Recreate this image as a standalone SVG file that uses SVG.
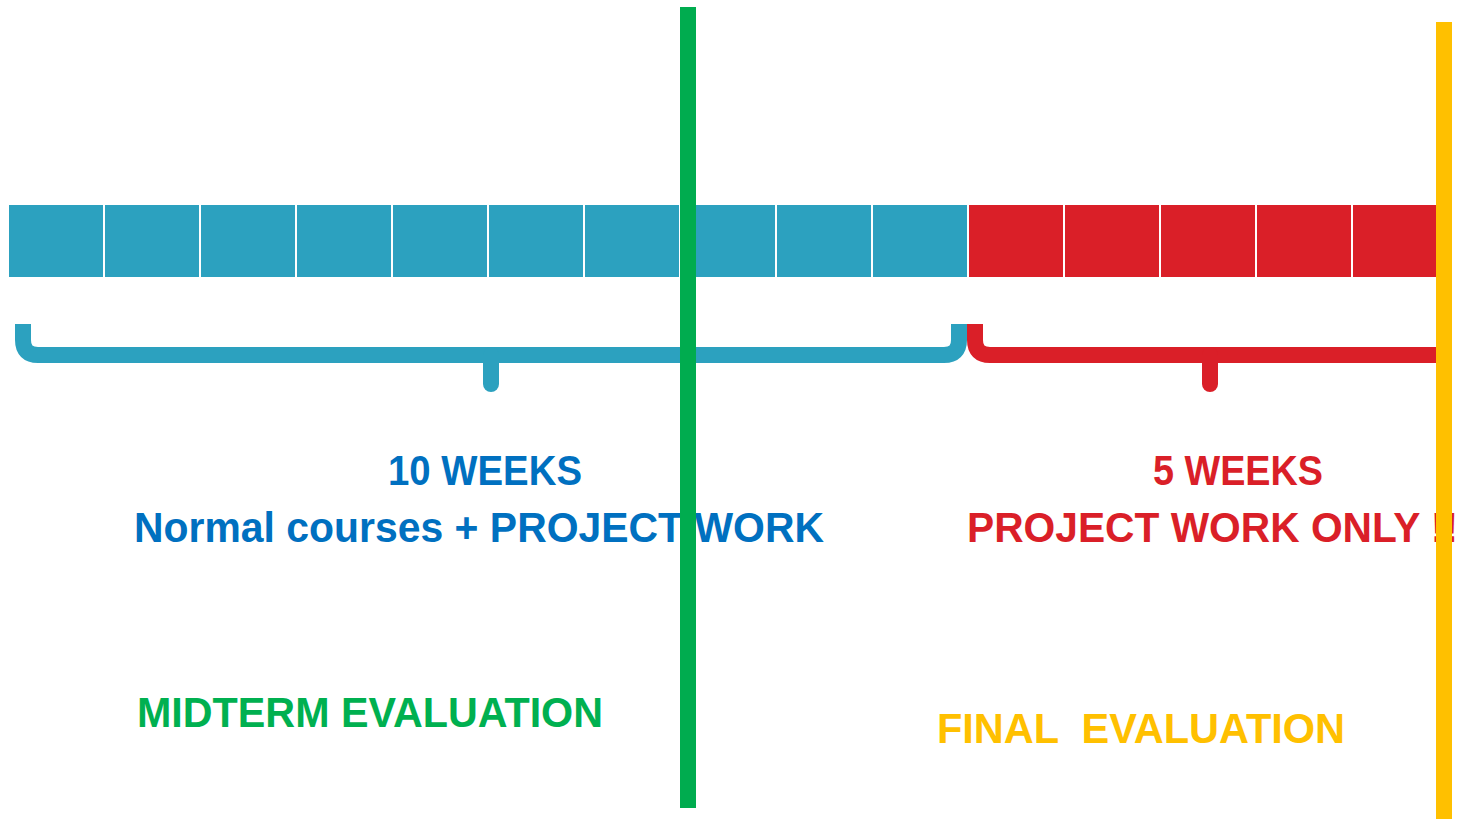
<svg xmlns="http://www.w3.org/2000/svg" width="1464" height="819" viewBox="0 0 1464 819">
<style>
.cb{fill:#2CA1BF}
.cr{fill:#DA1F28}
.br{fill:none;stroke-width:16;stroke-linecap:butt;stroke-linejoin:round}
.tip{fill:none;stroke-width:16;stroke-linecap:round}
text{font-family:"Liberation Sans",Arial,sans-serif;font-weight:bold;font-size:42px}
</style>
<rect width="1464" height="819" fill="#ffffff"/>
<g id="timeline">
<rect class="cb" x="9" y="205" width="94" height="72"/>
<rect class="cb" x="105" y="205" width="94" height="72"/>
<rect class="cb" x="201" y="205" width="94" height="72"/>
<rect class="cb" x="297" y="205" width="94" height="72"/>
<rect class="cb" x="393" y="205" width="94" height="72"/>
<rect class="cb" x="489" y="205" width="94" height="72"/>
<rect class="cb" x="585" y="205" width="94" height="72"/>
<rect class="cb" x="681" y="205" width="94" height="72"/>
<rect class="cb" x="777" y="205" width="94" height="72"/>
<rect class="cb" x="873" y="205" width="94" height="72"/>
<rect class="cr" x="969" y="205" width="94" height="72"/>
<rect class="cr" x="1065" y="205" width="94" height="72"/>
<rect class="cr" x="1161" y="205" width="94" height="72"/>
<rect class="cr" x="1257" y="205" width="94" height="72"/>
<rect class="cr" x="1353" y="205" width="90" height="72"/>
</g>
<g id="brace-blue">
<path class="br" stroke="#2CA1BF" d="M23,324 L23,340 Q23,355 38,355 L944,355 Q959,355 959,340 L959,324"/>
<path class="tip" stroke="#2CA1BF" d="M491,355 L491,384"/>
</g>
<g id="brace-red">
<path class="br" stroke="#DA1F28" d="M975,324 L975,340 Q975,355 990,355 L1444,355"/>
<path class="tip" stroke="#DA1F28" d="M1210,355 L1210,384"/>
</g>
<g id="labels-left">
<text x="388" y="485" fill="#0070C0" textLength="194" lengthAdjust="spacingAndGlyphs">10 WEEKS</text>
<text x="134" y="542" fill="#0070C0" textLength="690" lengthAdjust="spacingAndGlyphs">Normal courses + PROJECT WORK</text>
</g>
<g id="labels-right">
<text x="1153" y="485" fill="#DA1F28" textLength="170" lengthAdjust="spacingAndGlyphs">5 WEEKS</text>
<text x="967" y="542" fill="#DA1F28" textLength="491" lengthAdjust="spacingAndGlyphs">PROJECT WORK ONLY !!</text>
</g>
<g id="midterm">
<rect x="680" y="7" width="16" height="801" fill="#00AC4F"/>
<text x="137" y="727" fill="#00B050" font-size="44" textLength="466" lengthAdjust="spacingAndGlyphs">MIDTERM EVALUATION</text>
</g>
<g id="final">
<rect x="1436" y="22" width="16" height="797" fill="#FFC000"/>
<text x="937" y="743" fill="#FFC000" textLength="408" lengthAdjust="spacingAndGlyphs" xml:space="preserve">FINAL  EVALUATION</text>
</g>
</svg>
